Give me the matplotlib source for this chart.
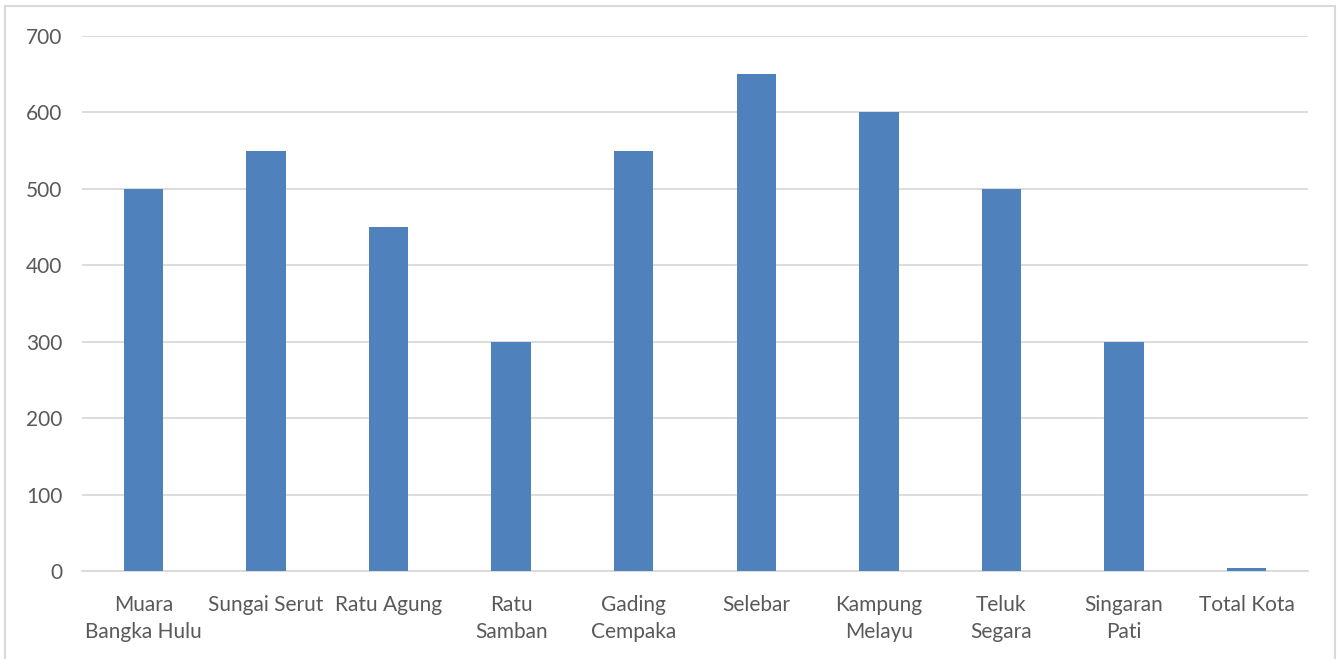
import matplotlib.pyplot as plt
from matplotlib.patches import Rectangle

plt.rcParams["font.family"] = ["Lato", "DejaVu Sans"]

# data
categories = ["Muara\nBangka Hulu", "Sungai Serut", "Ratu Agung", "Ratu\nSamban",
              "Gading\nCempaka", "Selebar", "Kampung\nMelayu", "Teluk\nSegara",
              "Singaran\nPati", "Total Kota"]
values = [500, 550, 450, 300, 550, 650, 600, 500, 300, 4]
y_ticks = [0, 100, 200, 300, 400, 500, 600, 700]

BAR = "#4F81BD"
TEXT = "#595959"
GRID = "#D9D9D9"

fig = plt.figure(figsize=(13.38, 6.59), dpi=100)
fig.patch.set_facecolor("white")
# chart border (bottom runs off the image)
fig.patches.append(Rectangle((5 / 1338, -0.05), 1330 / 1338, 1.05 - 6 / 659,
                             transform=fig.transFigure, fill=False,
                             edgecolor=GRID, lw=1.5))

ax = fig.add_axes([82 / 1338, 88 / 659, 1226 / 1338, 535 / 659])
x = range(len(categories))
ax.bar(x, values, width=0.32, color=BAR, zorder=3)

ax.set_xlim(-0.5, len(categories) - 0.5)
ax.set_ylim(0, 700)
ax.set_yticks(y_ticks)
ax.set_xticks(list(x))
ax.set_xticklabels(categories, fontsize=15, color=TEXT, linespacing=1.45)
ax.tick_params(axis="y", labelsize=15, labelcolor=TEXT, length=0, pad=14)
ax.tick_params(axis="x", length=0, pad=17)
ax.grid(axis="y", color=GRID, lw=1.3, zorder=0)
for s in ["top", "right", "left"]:
    ax.spines[s].set_visible(False)
ax.spines["bottom"].set_color(GRID)
ax.spines["bottom"].set_linewidth(1.3)

fig.savefig("out.png", dpi=100, facecolor="white")
